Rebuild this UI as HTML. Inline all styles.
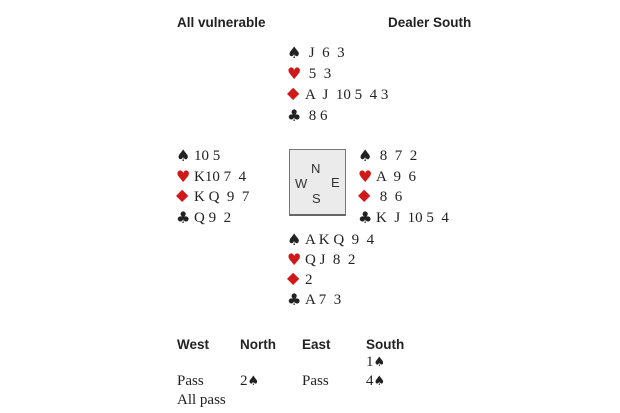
<!DOCTYPE html>
<html><head><style>
body{margin:0;width:620px;height:413px;background:#fff;position:relative;overflow:hidden;font-family:"Liberation Serif",serif;color:#222}
.a{position:absolute;white-space:pre;font-size:15px;line-height:18px}
.h{font-family:"Liberation Sans",sans-serif;font-weight:bold;font-size:13.5px}
.r{color:#d01818}
.s{display:inline-block;width:18px;font-family:"DejaVu Sans",sans-serif;font-size:16px;line-height:18px;vertical-align:top}
.d{font-size:16px;position:relative;top:-2px}
.b{font-family:"DejaVu Sans",sans-serif;font-size:13px}
.box{position:absolute;left:289px;top:149px;width:55px;height:64px;background:#ebebeb;border:1px solid #777;border-bottom:2px solid #666}
.c{position:absolute;font-family:"Liberation Sans",sans-serif;font-size:13px;color:#333}
</style></head><body>
<div class="a h" style="left:177px;top:14px">All vulnerable</div>
<div class="a h" style="left:388px;top:14px">Dealer South</div>

<div class="a" style="left:287px;top:44px"><span class="s">♠</span> J  6  3</div>
<div class="a" style="left:287px;top:65px"><span class="s r">♥</span> 5  3</div>
<div class="a" style="left:287px;top:86px"><span class="s r d">◆</span>A  J  10 5  4 3</div>
<div class="a" style="left:287px;top:107px"><span class="s">♣</span> 8 6</div>

<div class="a" style="left:176px;top:147px"><span class="s">♠</span>10 5</div>
<div class="a" style="left:176px;top:168px"><span class="s r">♥</span>K10 7  4</div>
<div class="a" style="left:176px;top:188px"><span class="s r d">◆</span>K Q  9  7</div>
<div class="a" style="left:176px;top:209px"><span class="s">♣</span>Q 9  2</div>

<div class="box"></div>
<div class="c" style="left:311px;top:161px">N</div>
<div class="c" style="left:295px;top:176px">W</div>
<div class="c" style="left:331px;top:175px">E</div>
<div class="c" style="left:312px;top:191px">S</div>

<div class="a" style="left:358px;top:147px"><span class="s">♠</span> 8  7  2</div>
<div class="a" style="left:358px;top:168px"><span class="s r">♥</span>A  9  6</div>
<div class="a" style="left:358px;top:188px"><span class="s r d">◆</span> 8  6</div>
<div class="a" style="left:358px;top:209px"><span class="s">♣</span>K  J  10 5  4</div>

<div class="a" style="left:287px;top:231px"><span class="s">♠</span>A K Q  9  4</div>
<div class="a" style="left:287px;top:251px"><span class="s r">♥</span>Q J  8  2</div>
<div class="a" style="left:287px;top:271px"><span class="s r d">◆</span>2</div>
<div class="a" style="left:287px;top:291px"><span class="s">♣</span>A 7  3</div>

<div class="a h" style="left:177px;top:336px">West</div>
<div class="a h" style="left:240px;top:336px">North</div>
<div class="a h" style="left:302px;top:336px">East</div>
<div class="a h" style="left:366px;top:336px">South</div>
<div class="a" style="left:366px;top:353px">1<span class="b">♠</span></div>
<div class="a" style="left:177px;top:372px">Pass</div>
<div class="a" style="left:240px;top:372px">2<span class="b">♠</span></div>
<div class="a" style="left:302px;top:372px">Pass</div>
<div class="a" style="left:366px;top:372px">4<span class="b">♠</span></div>
<div class="a" style="left:177px;top:391px">All pass</div>
</body></html>
